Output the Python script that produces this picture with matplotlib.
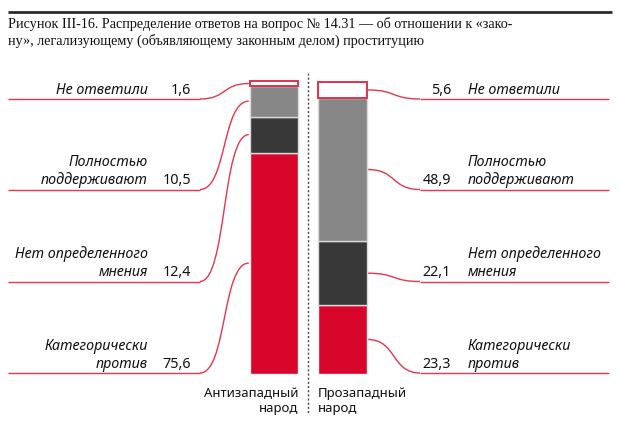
import matplotlib
matplotlib.use("Agg")
import matplotlib.pyplot as plt
from matplotlib.path import Path
from matplotlib.patches import PathPatch

# ---------------- data ----------------
title_lines = [
    "Рисунок III-16. Распределение ответов на вопрос № 14.31 — об отношении к «зако-",
    "ну», легализующему (объявляющему законным делом) проституцию",
]
groups = [["Антизападный", "народ"], ["Прозападный", "народ"]]
categories = [["Категорически", "против"],
              ["Нет определенного", "мнения"],
              ["Полностью", "поддерживают"],
              ["Не ответили"]]
anti_values = [75.6, 12.4, 10.5, 1.6]
pro_values = [23.3, 22.1, 48.9, 5.6]

# ---------------- style ----------------
RED = "#d7062a"
LINE_RED = "#e8354f"
seg_colors = [RED, "#383838", "#878787", "white"]
seg_edges = ["#f2f2f2", "#d9d9d9", "#d9d9d9", "#e2304c"]
SANS = ["Noto Sans", "DejaVu Sans"]
SERIF = ["Liberation Serif", "DejaVu Serif"]
TXT = "#111111"

W, H = 620, 422
fig = plt.figure(figsize=(W / 100, H / 100), dpi=100)
ax = fig.add_axes([0, 0, 1, 1])

# axis scaling: 100 % of a bar = 292 px, zero at pixel row 373.5
PX_PER_PCT = 2.92
ZERO_ROW = 373.5
ax.set_xlim(0, W)
ax.set_ylim(-(H - ZERO_ROW) / PX_PER_PCT, ZERO_ROW / PX_PER_PCT)
ax.axis("off")


def row(p):
    """pixel row (from top) -> data y"""
    return (ZERO_ROW - p) / PX_PER_PCT


# bars
bar_x = [274, 342.5]
bar_w = 48.5
mids = []
for xc, vals in zip(bar_x, [anti_values, pro_values]):
    bottom = 0
    m = []
    for v, fc, ec in zip(vals, seg_colors, seg_edges):
        lw = 1.4 if fc == "white" else 1.0
        ax.bar(xc, v, bottom=bottom, width=bar_w, color=fc, edgecolor=ec,
               linewidth=lw, zorder=3)
        m.append(bottom + v / 2)
        bottom += v
    mids.append(m)

# label guide rows (pixels from top)
label_rows = [373, 281.5, 189.5, 99]


def curve(x0, y0, x1, y1):
    k = (x1 - x0) * 0.55
    verts = [(x0, y0), (x0 + k, y0), (x1 - k, y1), (x1, y1)]
    codes = [Path.MOVETO, Path.CURVE4, Path.CURVE4, Path.CURVE4]
    ax.add_patch(PathPatch(Path(verts, codes), fill=False, edgecolor=LINE_RED,
                           linewidth=1.0, zorder=2, capstyle="butt"))


def fmt(v):
    return f"{v:.1f}".replace(".", ",")


left_edge = bar_x[0] - bar_w / 2
right_edge = bar_x[1] + bar_w / 2
fs = 10.3
for i, cat in enumerate(categories):
    ly = row(label_rows[i])
    # left side
    ax.plot([8, 200], [ly, ly], color=LINE_RED, lw=1.0, zorder=2,
            solid_capstyle="butt")
    curve(200, ly, left_edge - 1, mids[0][i])
    # right side
    ax.plot([420, 609], [ly, ly], color=LINE_RED, lw=1.0, zorder=2,
            solid_capstyle="butt")
    curve(right_edge + 1, mids[1][i], 420, ly)
    # texts
    base = label_rows[i] - 5
    for j, line in enumerate(reversed(cat)):
        yy = row(base - j * 18)
        ax.text(148, yy, line, ha="right", va="baseline", fontsize=fs,
                style="italic", family=SANS, color=TXT)
        ax.text(468, yy, line, ha="left", va="baseline", fontsize=fs,
                style="italic", family=SANS, color=TXT)
    ax.text(191, row(base), fmt(anti_values[i]), ha="right", va="baseline",
            fontsize=fs, family=SANS, color=TXT)
    ax.text(451, row(base), fmt(pro_values[i]), ha="right", va="baseline",
            fontsize=fs, family=SANS, color=TXT)

# group labels
for j in range(2):
    yy = row(397 + j * 15)
    ax.text(298, yy, groups[0][j], ha="right", va="baseline", fontsize=9.5,
            family=SANS, color=TXT)
    ax.text(318, yy, groups[1][j], ha="left", va="baseline", fontsize=9.5,
            family=SANS, color=TXT)

# dotted separator
ax.plot([308, 308], [row(73), row(414)], color="#444444", lw=1.0,
        linestyle=(0, (1.5, 1.5)), zorder=1)

# top rule and title
ax.plot([8, 612], [row(12), row(12)], color="#2b2b2b", lw=2.0,
        solid_capstyle="butt")
for j, t in enumerate(title_lines):
    ax.text(8, row(28 + j * 17), t, ha="left", va="baseline", fontsize=10.2,
            family=SERIF, color="#111111")

fig.savefig("out.png", dpi=100)
